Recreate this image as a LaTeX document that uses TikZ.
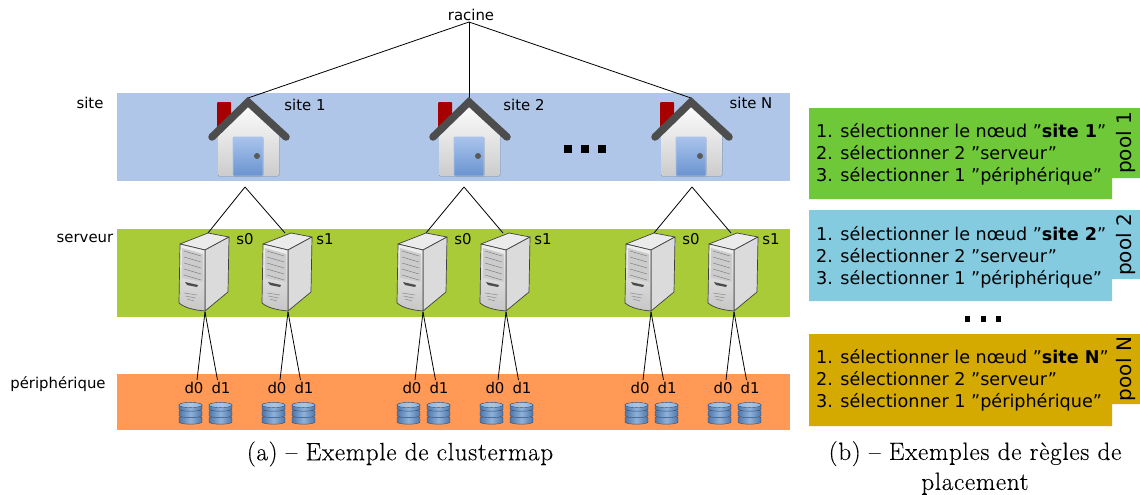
\documentclass[tikz,border=0pt]{standalone}
\usepackage{fontspec}
\setmainfont{DejaVu Sans}
\newfontfamily\capfont[LetterSpace=3,FakeBold=0.25]{Latin Modern Roman}
\definecolor{bandsite}{HTML}{B0C6E8}
\definecolor{bandsrv}{HTML}{A9CB37}
\definecolor{bandper}{HTML}{FF9955}
\definecolor{poola}{HTML}{6EC837}
\definecolor{poolb}{HTML}{84CBE0}
\definecolor{poolc}{HTML}{D4AA00}
\definecolor{roof}{HTML}{4D4D4D}
\definecolor{doortop}{HTML}{A9C4EC}
\definecolor{doorbot}{HTML}{6A93D0}
\definecolor{diskedge}{HTML}{4E76A8}
\definecolor{diskmid}{HTML}{8FB2DA}
\definecolor{disktop}{HTML}{A8C6E6}
\definecolor{diskline}{HTML}{2F4F7A}
\tikzset{
 lbl/.style={inner sep=0pt,font=\fontsize{14.9}{17}\selectfont},
 rule/.style={inner sep=0pt,anchor=west,align=left,font=\fontsize{17.6}{22}\selectfont},
 capt/.style={inner sep=0pt,align=center,font=\capfont\fontsize{25}{30}\selectfont},
 link/.style={draw=black,line width=.8pt},
 poolname/.style={inner sep=0pt,rotate=90,font=\fontsize{20}{22}\selectfont},
 pics/house/.style={code={
   \fill[rounded corners=1pt,fill=red!65!black] (-31,4) rectangle (-17,30);
   \fill[rounded corners=1pt,top color=white,bottom color=black!20] (0,3) -- (31,35) -- (31,78) -- (-30,78) -- (-30,35) -- cycle;
   \fill[rounded corners=1pt,top color=doortop,bottom color=doorbot] (-15,39) rectangle (15,78);
   \draw[doortop,line width=.6pt,rounded corners=1pt] (-15,39) rectangle (15,78);
   \fill[black!65] (9,58) circle (3);
   \draw[roof,line width=7.5pt,line cap=round,line join=miter] (-36,39) -- (0,4) -- (38,39);
 }},
 pics/srv/.style={code={
   \draw[black!75,line width=.7pt,line join=round,fill=black!8] (1,11) -- (29,0) -- (50,4) -- (26,17) -- cycle;
   \draw[black!75,line width=.7pt,line join=round,fill=black!14] (26,17) -- (50,4) -- (49,59) -- (26,78) -- cycle;
   \shade[top color=black!6,bottom color=black!22,draw=black!75,line width=.7pt,line join=round] (1,11) -- (26,17) -- (26,78) .. controls (15,77) and (6,75) .. (0,70) -- cycle;
   \fill[black!20] (3,15) -- (24,21) -- (24,49) -- (3,45) -- cycle;
   \foreach \k in {0,1,2,3,4}{\draw[black!50,line width=.5pt] (5,{18+\k*6}) -- (22,{23+\k*6});}
   \fill[black!70] (6,49) -- (19,52) -- (18,54) -- (8,52) -- cycle;
   \foreach \k in {0,1,2}{\draw[black!45,line width=.5pt] ({5+\k*1.5},{60+\k*3}) -- ({18-\k*1.5},{62+\k*3});}
 }},
 pics/disk/.style={code={
   \foreach \k in {14,7.5,1}{
     \shade[left color=diskedge,right color=diskedge,middle color=diskmid,draw=diskline,line width=.4pt] (0,{\k+2}) arc[start angle=180,end angle=360,x radius=11.5,y radius=2.2] -- (23,{\k+6}) arc[start angle=0,end angle=-180,x radius=11.5,y radius=-2.2] -- cycle;
   }
   \shade[left color=diskmid,right color=diskmid,middle color=disktop,draw=diskline,line width=.4pt] (11.5,3) ellipse[x radius=11.5,y radius=2.6];
 }}
}
\begin{document}
\begin{tikzpicture}[x=1pt,y=-1pt]
\useasboundingbox (0,0) rectangle (1140,495);
% bands
\fill[bandsite] (117,93) rectangle (790,181);
\fill[bandsrv] (117,229) rectangle (790,317);
\fill[bandper] (117,374) rectangle (790,430);
% anchors
\node[lbl] (racine) at (471,15) {racine};
\coordinate (rootpt) at (469,22);
\foreach \n/\x/\y in {h1/248/98,h2/469/98,h3/691/98,t1/245/187,t2/464/187,t3/692/187}{\coordinate (\n) at (\x,\y);}
\foreach \n/\x in {a/208,b/285,c/426,d/503,e/654,f/731}{\coordinate (top\n) at (\x,233);}
\foreach \n/\x in {a/205,b/288,c/423,d/506,e/651,f/734}{\coordinate (bot\n) at (\x,312);}
\foreach \n/\dx in {a/0,b/83,c/218,d/301,e/446,f/529}{
  \coordinate (l\n) at ({197+\dx},380);
  \coordinate (r\n) at ({217.5+\dx},380);
}
% connectors
\draw[link] (rootpt) -- (h1);
\draw[link] (rootpt) -- (h2);
\draw[link] (rootpt) -- (h3);
\draw[link] (t1) -- (topa); \draw[link] (t1) -- (topb);
\draw[link] (t2) -- (topc); \draw[link] (t2) -- (topd);
\draw[link] (t3) -- (tope); \draw[link] (t3) -- (topf);
\foreach \n in {a,b,c,d,e,f}{
  \draw[link] (bot\n) -- (l\n);
  \draw[link] (bot\n) -- (r\n);
}
% houses
\pic at (248,98) {house};
\pic at (469,98) {house};
\pic at (691,98) {house};
% servers
\foreach \x in {179,262,397,480,625,708}{\pic at (\x,233) {srv};}
% disks
\foreach \x in {179,209,262,292,397,427,480,510,625,655,708,738}{\pic at (\x,402) {disk};}
% labels
\node[lbl] (lsite) at (90,103) {site};
\node[lbl] (lsrv) at (85,238) {serveur};
\node[lbl] (lper) at (58,384) {périphérique};
\node[lbl] (n1) at (305,105) {site 1};
\node[lbl] (n2) at (524,105) {site 2};
\node[lbl] (n3) at (751,103) {site N};
\foreach \x/\t [count=\i] in {245/s0,325/s1,463/s0,543/s1,691/s0,771/s1}{\node[lbl] (sv\i) at (\x,239) {\t};}
\foreach \x/\t [count=\i] in {194/d0,221/d1,277/d0,304/d1,412/d0,439/d1,495/d0,522/d1,640/d0,667/d1,723/d0,750/d1}{\node[lbl] (dk\i) at (\x,388) {\t};}
% dots
\foreach \x in {564,581,598}{\fill (\x,145) rectangle ++(8,8);}
\foreach \x in {965,981,996}{\fill (\x,316) rectangle ++(5,6);}
% pools
\fill[poola] (809,108) -- (1140,108) -- (1140,178) -- (1112,178) -- (1112,199) -- (809,199) -- cycle;
\fill[poolb] (809,210) -- (1140,210) -- (1140,279) -- (1112,279) -- (1112,301) -- (809,301) -- cycle;
\fill[poolc] (809,334) -- (1140,334) -- (1140,404) -- (1112,404) -- (1112,426) -- (809,426) -- cycle;
\node[rule] (r1) at (816,154) {1. sélectionner le nœud ”\textbf{site 1}”\\2. sélectionner 2 ”serveur”\\3. sélectionner 1 ”périphérique”};
\node[rule] (r2) at (816,257) {1. sélectionner le nœud ”\textbf{site 2}”\\2. sélectionner 2 ”serveur”\\3. sélectionner 1 ”périphérique”};
\node[rule] (r3) at (816,380) {1. sélectionner le nœud ”\textbf{site N}”\\2. sélectionner 2 ”serveur”\\3. sélectionner 1 ”périphérique”};
\node[poolname] (p1) at (1126,143) {pool 1};
\node[poolname] (p2) at (1126,245) {pool 2};
\node[poolname] (p3) at (1126,369) {pool N};
% captions
\node[capt] (ca) at (400,454) {(a) – Exemple de clustermap};
\node[capt] (cb) at (975,468) {(b) – Exemples de règles de\\placement};
\end{tikzpicture}
\end{document}
